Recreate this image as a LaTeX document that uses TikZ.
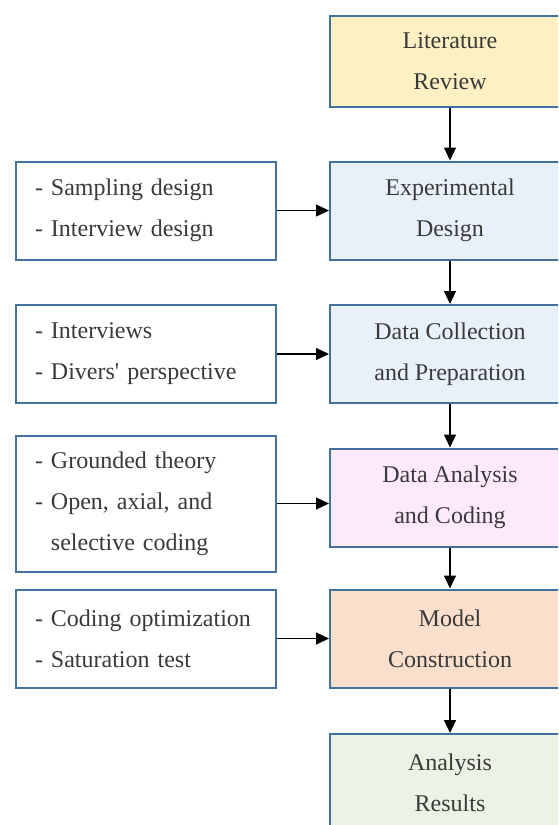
\documentclass[tikz,border=0pt]{standalone}
\usepackage{fontspec}
\setmainfont{Liberation Serif}
\usetikzlibrary{arrows.meta,positioning}
\definecolor{borderColor}{HTML}{41719C}
\definecolor{textColor}{HTML}{3A3A3A}
\definecolor{reviewColor}{HTML}{FFF0C4}
\definecolor{designColor}{HTML}{E8F1FA}
\definecolor{collectColor}{HTML}{E8F1FA}
\definecolor{analysisColor}{HTML}{FDE9FC}
\definecolor{modelColor}{HTML}{FBDFCD}
\definecolor{resultColor}{HTML}{EBF3E4}

\begin{document}
\begin{tikzpicture}[%
    >={Triangle[length=13pt,width=12pt]},line width=1.2pt,align=center,
    every node/.style={font=\fontsize{24}{41}\selectfont,text=textColor}]
    \tikzstyle{base}=[draw=borderColor,line width=2pt,node distance=43.5pt]
    \tikzstyle{stage}=[base,rectangle,minimum width=240pt,minimum height=98pt]
    \tikzstyle{detail}=[base,rectangle,fill=white,inner xsep=19pt,text width=222pt,align=left,minimum height=98pt]
    % All stage styles
    \tikzstyle{review}=[stage,fill=reviewColor,minimum height=91pt]
    \tikzstyle{design}=[stage,fill=designColor]
    \tikzstyle{collect}=[stage,fill=collectColor]
    \tikzstyle{analysis}=[stage,fill=analysisColor]
    \tikzstyle{model}=[stage,fill=modelColor]
    \tikzstyle{result}=[stage,fill=resultColor]
    \useasboundingbox (0,0) rectangle (558pt,-825pt);
    \clip (0,0) rectangle (558pt,-825pt);
    % All stages
    \node (review) [review] at (450pt,-61.5pt)         {Literature\\Review};
    \node (design) [design,below=52.5pt of review]     {Experimental\\Design};
    \node (collect) [collect,below=of design]          {Data Collection\\and Preparation};
    \node (analysis) [analysis,below=of collect]       {Data Analysis\\and Coding};
    \node (model) [model,below=41pt of analysis]       {Model\\Construction};
    \node (result) [result,below=44.5pt of model]      {Analysis\\Results};
    % All details
    \node (designDetail) [detail,left=52pt of design]
          {- Sampling design\\- Interview design};
    \node (collectDetail) [detail,left=52pt of collect]
          {- Interviews\\- Divers\textquotesingle{} perspective};
    \node (analysisDetail) [detail,left=52pt of analysis,yshift=-6pt,minimum height=136pt]
          {- Grounded theory\\- Open, axial, and\\\phantom{- }selective coding};
    \node (modelDetail) [detail,left=52pt of model]
          {- Coding optimization\\- Saturation test};
    % Edges
    \draw [->] (review) -- (design);
    \draw [->] (design) -- (collect);
    \draw [->] (collect) -- (analysis);
    \draw [->] (analysis) -- (model);
    \draw [->] (model) -- (result);
    \draw [->] (designDetail.east) -- (designDetail.east -| design.west);
    \draw [->] (collectDetail.east) -- (collectDetail.east -| collect.west);
    \draw [->] (analysisDetail.east) -- (analysisDetail.east -| analysis.west);
    \draw [->] (modelDetail.east) -- (modelDetail.east -| model.west);
  \end{tikzpicture}
\end{document}
